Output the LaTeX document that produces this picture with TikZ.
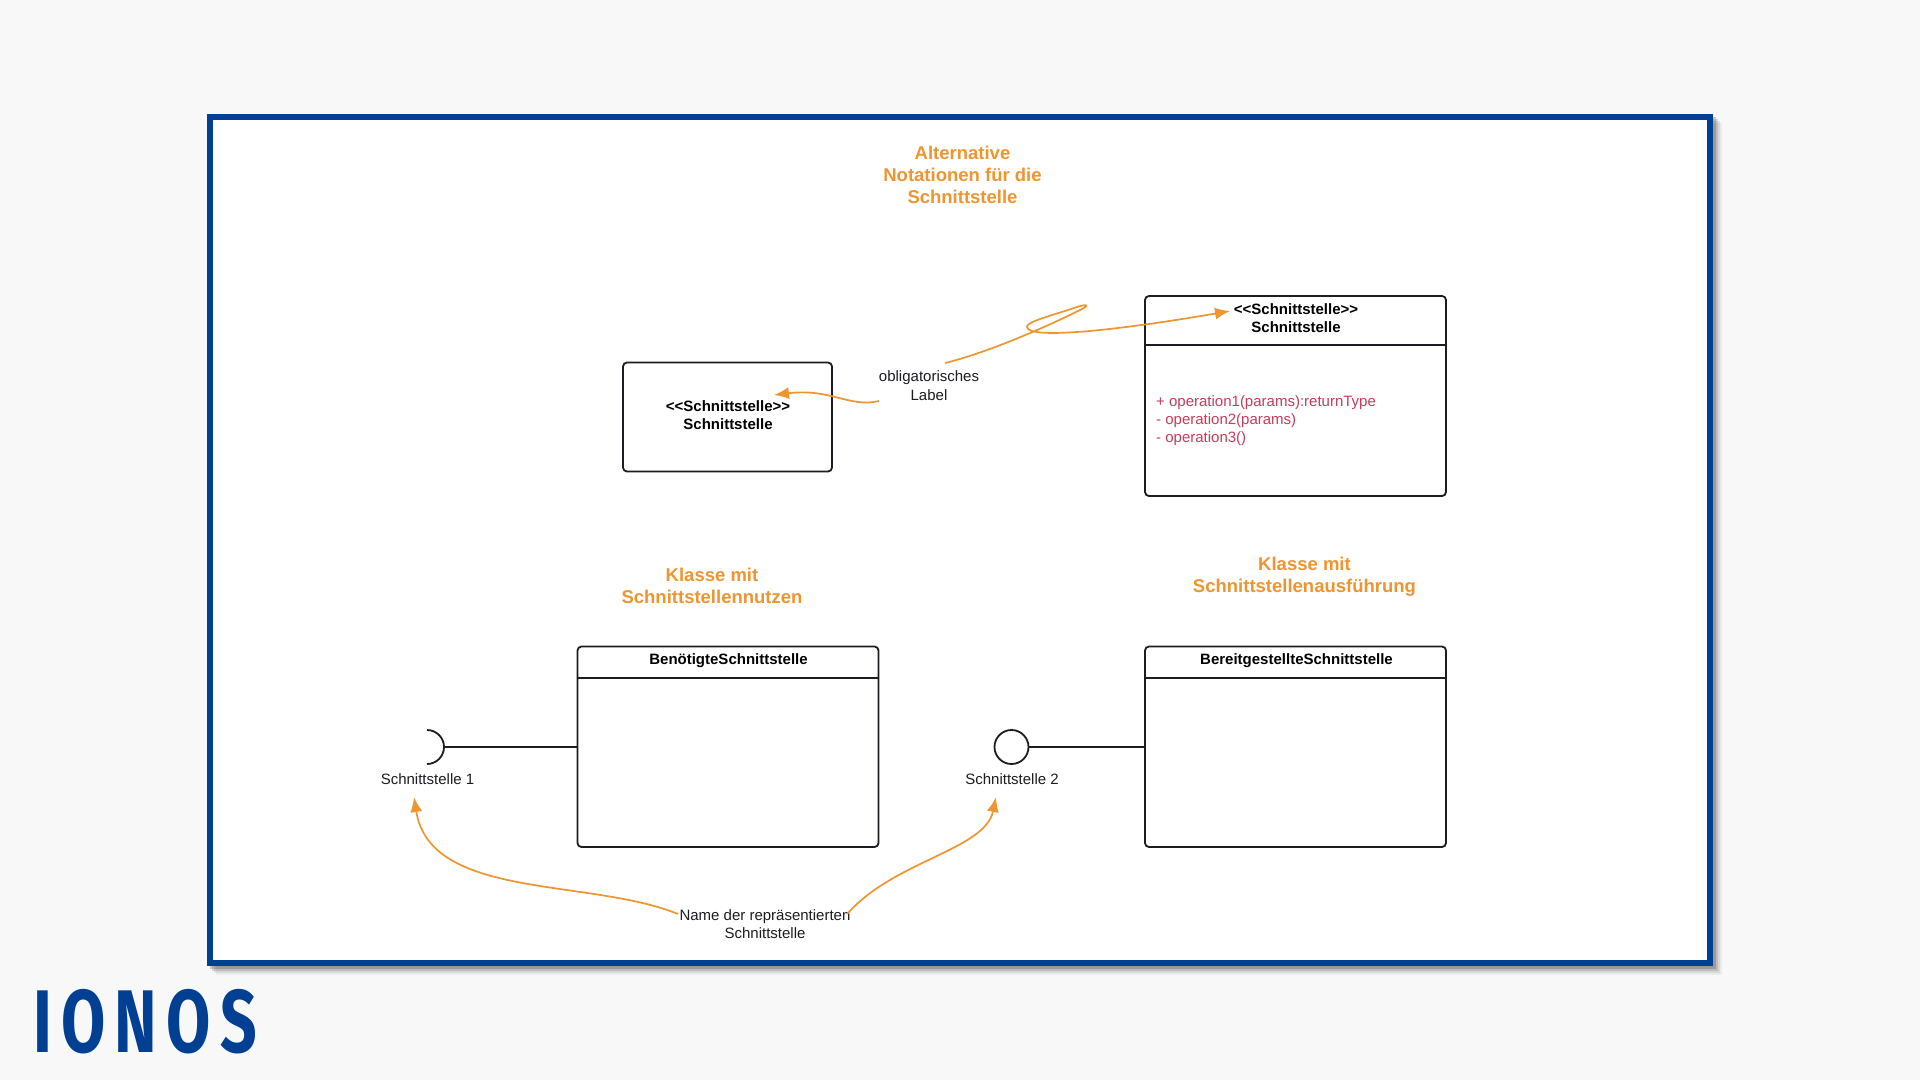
\documentclass[tikz,border=0pt]{standalone}
\usepackage{fontspec}
\setmainfont{Liberation Sans}
\newfontfamily\logofont[LetterSpace=14.5]{Fira Sans}
\usepackage{xcolor}
\usepackage{tikz}
\usetikzlibrary{arrows.meta}

\definecolor{pagegray}{HTML}{F8F8F8}
\definecolor{ionosblue}{HTML}{003F92}
\definecolor{noteorange}{HTML}{EE9530}
\definecolor{opred}{HTML}{C73B5C}
\definecolor{linegray}{HTML}{1C1C22}

\newcommand{\stereo}{{<}{<}Schnittstelle{>}{>}}

\tikzset{
	umlbox/.style={draw=linegray,line width=1.8pt,rounded corners=4pt,fill=white,outer sep=0pt},
	umlline/.style={draw=linegray,line width=1.8pt},
	plainlabel/.style={align=center,text=linegray,font=\fontsize{15}{18.5}\selectfont,inner sep=0pt},
	boldlabel/.style={align=center,text=black,font=\fontsize{15}{18}\selectfont\bfseries,inner sep=0pt},
	heading/.style={align=center,text=noteorange,font=\fontsize{18.5}{22}\selectfont\bfseries,inner sep=0pt},
	notearrow/.style={draw=noteorange,line width=1.7pt,-{Latex[length=15pt,width=12pt]}},
}

\begin{document}
\begin{tikzpicture}[x=1pt,y=-1pt]
	\useasboundingbox (0,0) rectangle (1920,1080);
	\fill[pagegray] (0,0) rectangle (1920,1080);
	% shadow and frame
	\foreach \off/\op in {9/0.05,7/0.08,5/0.13,3/0.18}
		\fill[black,opacity=\op] (207+\off,114+\off) rectangle (1713+\off,966+\off);
	\node[draw=ionosblue,line width=6pt,fill=white,minimum width=1500pt,minimum height=846pt,inner sep=0pt] (frame) at (960,540) {};

	% headings
	\node[heading] (titleTop) at (962.5,175) {Alternative\\Notationen für die\\Schnittstelle};
	\node[heading] (titleUse) at (712,586) {Klasse mit\\Schnittstellennutzen};
	\node[heading] (titleImpl) at (1304.5,577) {Klasse mit\\Schnittstellenausführung};

	% boxes
	\node[umlbox,minimum width=209pt,minimum height=109pt] (boxSimple) at (727.5,417) {};
	\node[boldlabel] (labelSimple) at (728,415) {\stereo\\Schnittstelle};

	\node[umlbox,minimum width=301pt,minimum height=200pt] (boxFull) at (1295.5,396) {};
	\node[boldlabel] (labelFull) at (1296,318.5) {\stereo\\Schnittstelle};
	\coordinate (splitFull) at (1145,345);
	\draw[umlline] (splitFull) -- (splitFull -| boxFull.east);
	\node[align=left,text=opred,font=\fontsize{15}{17.7}\selectfont,inner sep=0pt,anchor=west] (ops) at (1156,420.5) {+ operation1(params):returnType\\- operation2(params)\\- operation3()};

	\node[umlbox,minimum width=301pt,minimum height=200.5pt] (boxUse) at (728,746.75) {};
	\node[boldlabel] (labelUse) at (728.5,661) {BenötigteSchnittstelle};
	\coordinate (splitUse) at (577,678);
	\draw[umlline] (splitUse) -- (splitUse -| boxUse.east);

	\node[umlbox,minimum width=301pt,minimum height=200.5pt] (boxImpl) at (1295.5,746.75) {};
	\node[boldlabel] (labelImpl) at (1296.5,661) {BereitgestellteSchnittstelle};
	\coordinate (splitImpl) at (1145,678);
	\draw[umlline] (splitImpl) -- (splitImpl -| boxImpl.east);

	% sockets
	\coordinate (socket) at (444,747);
	\draw[umlline] (socket) -- (socket -| boxUse.west);
	\draw[umlline] (427,730) arc[start angle=-90,end angle=90,radius=17,y=-1pt];
	\node[draw=linegray,line width=1.8pt,circle,minimum size=34pt,inner sep=0pt,outer sep=0pt] (lollipop) at (1011.5,747) {};
	\draw[umlline] (lollipop) -- (lollipop -| boxImpl.west);
	\node[plainlabel] (nameOne) at (427.5,779) {Schnittstelle 1};
	\node[plainlabel] (nameTwo) at (1012,779) {Schnittstelle 2};

	% notes
	\node[plainlabel] (noteLabel) at (929,385.5) {obligatorisches\\Label};
	\node[plainlabel] (noteName) at (765,924) {Name der repräsentierten\\Schnittstelle};

	\coordinate (noteUp) at (945,363);
	\coordinate (noteDown) at (879,401);
	\coordinate (nameLeft) at (678,914);
	\coordinate (nameRight) at (847,914);
	\coordinate (tipFull) at (1230,311);
	\coordinate (tipSimple) at (774,395);
	\coordinate (tipOne) at (414,797);
	\coordinate (tipTwo) at (996,797);

	\draw[notearrow] (noteUp) .. controls (990,352) and (1050,325) .. (1078,311) .. controls (1091,305) and (1088,303) .. (1074,308) .. controls (1050,316) and (1026,322) .. (1027,327) .. controls (1028,340) and (1120,330) .. (tipFull);
	\draw[notearrow] (noteDown) .. controls (850,408) and (830,388) .. (tipSimple);
	\draw[notearrow] (nameLeft) .. controls (590,878) and (430,900) .. (tipOne);
	\draw[notearrow] (nameRight) .. controls (895,860) and (985,850) .. (tipTwo);

	% logo
	\node[text=ionosblue,inner sep=0pt,anchor=west] (logo) at (33,1022) {\scalebox{0.72}[1]{\logofont\fontsize{89}{89}\selectfont\bfseries IONOS}};
\end{tikzpicture}
\end{document}
